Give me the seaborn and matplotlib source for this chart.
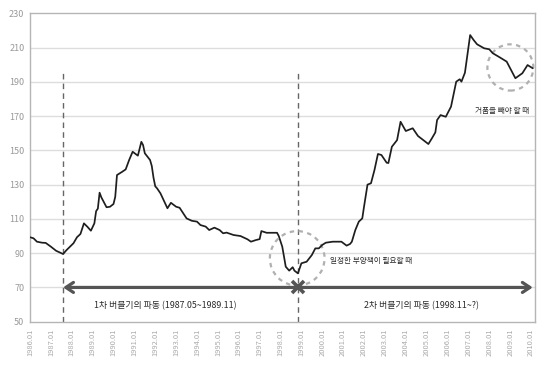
import matplotlib
matplotlib.use("Agg")
import matplotlib.pyplot as plt
from matplotlib.patches import Ellipse
import seaborn as sns
import pandas as pd

# ---- data ----
dates = [
    "1986.01", "1986.03", "1986.05", "1986.08", "1986.10",
    "1987.01", "1987.04", "1987.07", "1987.08", "1987.10",
    "1988.02", "1988.04", "1988.06", "1988.08", "1988.10", "1988.12",
    "1989.02", "1989.03", "1989.04", "1989.05", "1989.06", "1989.09", "1989.11",
    "1990.01", "1990.02", "1990.03", "1990.06", "1990.08", "1990.10", "1990.12",
    "1991.03", "1991.05", "1991.06", "1991.07", "1991.10", "1991.11", "1991.12",
    "1992.01", "1992.02", "1992.04", "1992.08", "1992.10",
    "1993.01", "1993.03", "1993.07", "1993.10",
    "1994.01", "1994.03", "1994.06", "1994.08", "1994.11",
    "1995.02", "1995.04", "1995.06", "1995.10",
    "1996.02", "1996.06", "1996.08", "1996.11",
    "1997.01", "1997.02", "1997.05", "1997.07", "1997.11", "1997.12",
    "1998.02", "1998.03", "1998.04", "1998.06", "1998.08", "1998.09", "1998.11",
    "1999.01", "1999.04", "1999.07", "1999.09", "1999.11",
    "2000.01", "2000.03", "2000.07", "2000.12",
    "2001.03", "2001.05", "2001.06", "2001.08", "2001.10", "2001.12",
    "2002.01", "2002.03", "2002.05", "2002.07", "2002.09", "2002.11",
    "2003.02", "2003.03", "2003.05", "2003.08", "2003.10",
    "2004.01", "2004.05", "2004.08",
    "2005.02", "2005.04", "2005.06", "2005.07", "2005.09", "2005.12",
    "2006.03", "2006.06", "2006.08", "2006.09", "2006.11",
    "2007.02", "2007.04", "2007.06", "2007.10",
    "2008.01", "2008.03", "2008.07", "2008.11",
    "2009.04", "2009.08", "2009.11",
    "2010.02",
]
index_values = [
    99.3, 98.7, 96.7, 96.1, 96.0,
    93.8, 91.4, 90.0, 89.5, 91.8,
    95.8, 99.3, 101.2, 107.4, 105.4, 103.1,
    107.4, 114.5, 116.0, 125.3, 122.6, 116.8, 117.1,
    118.7, 122.9, 135.6, 137.5, 138.9, 144.4, 149.2,
    146.9, 155.0, 153.1, 148.3, 144.4, 140.9, 134.0,
    129.0, 127.9, 124.9, 116.2, 119.4,
    117.1, 116.5, 110.3, 108.9,
    108.4, 106.4, 105.5, 103.5, 104.9,
    103.5, 101.6, 102.0, 100.6,
    100.0, 98.1, 96.7, 97.7,
    98.2, 102.9, 101.9, 101.9, 101.9, 100.0,
    93.8, 88.0, 82.1, 79.8, 81.8, 79.8, 78.2,
    84.1, 85.0, 88.9, 92.8, 92.8,
    94.8, 96.1, 96.7, 96.7,
    94.4, 95.4, 96.7, 103.5, 108.4, 110.3,
    117.1, 130.0, 130.8, 138.5, 147.9, 147.3,
    142.8, 142.6, 152.1, 156.0, 166.7,
    161.3, 162.9, 158.4,
    153.7, 157.0, 160.5, 167.7, 170.6, 169.6,
    175.5, 190.1, 191.5, 190.1, 195.3,
    217.3, 214.4, 211.9, 209.6,
    209.0, 206.7, 204.3, 201.8,
    192.1, 195.0, 199.8,
    197.9,
]
tick_years = list(range(1986, 2011))
tick_labels = [f"{y}.01" for y in tick_years]
y_ticks = [50, 70, 90, 110, 130, 150, 170, 190, 210, 230]

bubble1_start = "1987.08"
bubble2_start = "1998.11"
arrow_end = "2010.02"
arrow_level = 70
label1 = "1차 버블기의 파동 (1987.05~1989.11)"
label2 = "2차 버블기의 파동 (1998.11~?)"
note1 = "일정한 부양책이 필요할 때"
note2 = "거품을 빼야 할 때"


def to_year(s):
    return int(s[:4]) + (int(s[5:]) - 1) / 12.0


df = pd.DataFrame({"t": [to_year(d) for d in dates], "v": index_values})

# ---- figure ----
sns.set_theme(style="white")
plt.rcParams["font.family"] = ["Noto Sans CJK KR", "DejaVu Sans"]

fig = plt.figure(figsize=(5.39, 3.72), dpi=100)
ax = fig.add_axes([30 / 539, 1 - 321.7 / 372, (535 - 30) / 539, (321.7 - 13.3) / 372])

for y in y_ticks[1:-1]:
    ax.axhline(y, color="#dddddd", lw=1.0, zorder=0)

sns.lineplot(data=df, x="t", y="v", ax=ax, color="#1e1e1e", lw=1.25, sort=False, zorder=3)

ax.set_xlim(1986.0, 2010.19)
ax.set_ylim(50, 230)
ax.set_xticks(tick_years)
ax.set_xticklabels(tick_labels, rotation=90, fontsize=5.4, color="#aaaaaa")
ax.set_yticks(y_ticks)
ax.set_yticklabels([str(v) for v in y_ticks], fontsize=6.5, color="#999999")
ax.tick_params(axis="x", length=0, pad=5)
ax.tick_params(axis="y", length=0, pad=4)
ax.set_xlabel("")
ax.set_ylabel("")
for sp in ax.spines.values():
    sp.set_color("#b5b5b5")
    sp.set_linewidth(1.0)

# dashed vertical markers
for d in (bubble1_start, bubble2_start):
    ax.plot([to_year(d), to_year(d)], [50, 196], color="#666666", lw=1.0,
            ls=(0, (4, 3)), zorder=2)

# arrow
ax.annotate("", xy=(to_year(arrow_end), arrow_level), xytext=(to_year(bubble1_start), arrow_level),
            arrowprops=dict(arrowstyle="<->,head_length=0.45,head_width=0.3",
                            color="#555555", lw=2.3, shrinkA=0, shrinkB=0),
            annotation_clip=False, zorder=4)
ax.plot([to_year(bubble2_start)], [arrow_level], marker="x", ms=8, mew=2.6,
        color="#555555", zorder=5)

# dashed circles (ellipses in data coords to appear round)
ax.add_patch(Ellipse((1998.80, 87.0), 2.62, 31.8, fill=False, ec="#b0b0b0", lw=1.6,
                     ls=(0, (2, 2)), zorder=2))
ax.add_patch(Ellipse((2009.01, 198.4), 2.2, 27.0, fill=False, ec="#b0b0b0", lw=1.6,
                     ls=(0, (2, 2)), zorder=2))

# texts
ax.text(1992.47, 59.3, label1, ha="center", va="center", fontsize=6.4, color="#2a2a2a",
        fontweight="medium")
ax.text(2004.73, 59.3, label2, ha="center", va="center", fontsize=6.4, color="#2a2a2a",
        fontweight="medium")
ax.text(2000.37, 85.4, note1, ha="left", va="center", fontsize=5.5, color="#2a2a2a",
        fontweight="medium")
ax.text(2008.63, 173.0, note2, ha="center", va="center", fontsize=5.5, color="#2a2a2a",
        fontweight="medium")

fig.savefig("out.png", dpi=100, facecolor="white")
